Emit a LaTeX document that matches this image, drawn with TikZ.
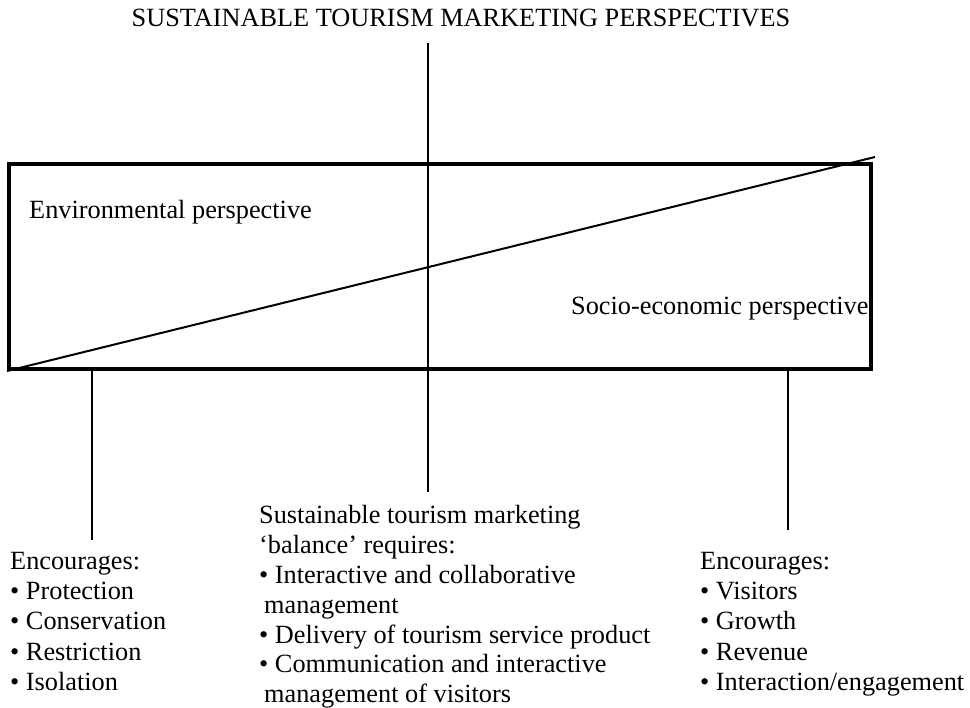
\documentclass[tikz,border=0pt]{standalone}
\usepackage{fontspec}
\setmainfont{Liberation Serif}
\begin{document}
\begin{tikzpicture}[x=1pt,y=-1pt,
  txt/.style={inner sep=0pt, anchor=base west, font=\fontsize{26.3}{30.4}\selectfont},
  thinline/.style={line width=1.6pt},
  frame/.style={draw, line width=4pt, inner sep=0pt, anchor=north west}]
\useasboundingbox (0,0) rectangle (970,708);
% title
\node[txt, anchor=base] (title) at (461,27) {SUSTAINABLE TOURISM MARKETING PERSPECTIVES};
% box
\node[frame, minimum width=862pt, minimum height=205pt] (box) at (7,162) {};
\coordinate (diagend) at (875,157);
\draw[line width=2pt] (box.south west) -- (diagend);
\node[txt] (env) at (29,219) {Environmental perspective};
\node[txt] (soc) at (571,315) {Socio-economic perspective};
% lists
\node[txt] (left) at (10,569) {\begin{tabular}[t]{@{}l@{}}Encourages:\\ • Protection\\ • Conservation\\ • Restriction\\ • Isolation\end{tabular}};
\node[txt, font=\fontsize{26.3}{29.8}\selectfont] (mid) at (259,524) {\begin{tabular}[t]{@{}l@{}}Sustainable tourism marketing\\ ‘balance’ requires:\\ • Interactive and collaborative\\ \hspace{5pt}management\\ • Delivery of tourism service product\\ • Communication and interactive\\ \hspace{5pt}management of visitors\end{tabular}};
\node[txt] (right) at (700,569) {\begin{tabular}[t]{@{}l@{}}Encourages:\\ • Visitors\\ • Growth\\ • Revenue\\ • Interaction/engagement\end{tabular}};
% connectors
\coordinate (ctop) at (428,43);
\coordinate (cbot) at (428,492);
\coordinate (lbot) at (92,540);
\coordinate (rbot) at (788,530);
\draw[thinline] (ctop) -- (cbot);
\draw[thinline] (box.south west -| lbot) -- (lbot);
\draw[thinline] (box.south west -| rbot) -- (rbot);
\end{tikzpicture}
\end{document}
